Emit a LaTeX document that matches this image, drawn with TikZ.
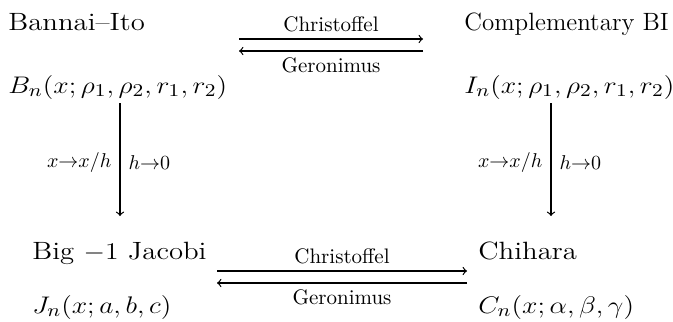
\documentclass[tikz,border=0pt]{standalone}
\usepackage{fontspec}
\usepackage{graphicx}
\newcommand{\stretchtxt}[1]{\scalebox{1.15}[1]{#1}}
\begin{document}
\begin{tikzpicture}[x=0.5pt,y=-0.5pt,
  lbl/.style={font=\fontsize{12.5}{15}\selectfont, inner sep=0pt, anchor=base west},
  elab/.style={font=\fontsize{10.5}{12}\selectfont, inner sep=3pt},
  vlab/.style={font=\fontsize{10}{12}\selectfont, inner sep=4pt},
  arr/.style={->, line width=0.6pt}]
\useasboundingbox (0,0) rectangle (673,321);
% cells
\node[lbl] (bi)  at (8,30)   {\stretchtxt{Bannai--Ito}};
\node[lbl] (bif) at (8,93)   {\stretchtxt{$B_n(x;\rho_1,\rho_2,r_1,r_2)$}};
\node[lbl] (cb)  at (464,30) {Complementary BI};
\node[lbl] (cbf) at (464,93) {\stretchtxt{$I_n(x;\rho_1,\rho_2,r_1,r_2)$}};
\node[lbl] (jb)  at (32,259) {\stretchtxt{Big $-1$ Jacobi}};
\node[lbl] (jbf) at (32,313) {\stretchtxt{$J_n(x;a,b,c)$}};
\node[lbl] (ch)  at (478,259) {\stretchtxt{Chihara}};
\node[lbl] (chf) at (478,313) {\stretchtxt{$C_n(x;\alpha,\beta,\gamma)$}};
% top pair
\draw[arr] ([shift={(115.5pt,27pt)}]bif.base west) -- node[elab,above]{Christoffel} ([shift={(-20.5pt,27pt)}]cbf.base west);
\draw[arr] ([shift={(-20.5pt,21pt)}]cbf.base west) -- node[elab,below]{Geronimus} ([shift={(115.5pt,21pt)}]bif.base west);
% bottom pair
\draw[arr] ([shift={(92.5pt,-6pt)}]jb.base west) -- node[elab,above]{Christoffel} ([shift={(-5.5pt,-6pt)}]ch.base west);
\draw[arr] ([shift={(-5.5pt,-12pt)}]ch.base west) -- node[elab,below]{Geronimus} ([shift={(92.5pt,-12pt)}]jb.base west);
% verticals
\draw[arr] ([shift={(56pt,-5pt)}]bif.base west) -- node[vlab,left,yshift=-1.5pt]{$x{\to}x/h$} node[vlab,right,yshift=-1.5pt]{$h{\to}0$} ([shift={(44pt,21.5pt)}]jb.base west);
\draw[arr] ([shift={(43.5pt,-5pt)}]cbf.base west) -- node[vlab,left,yshift=-1.5pt]{$x{\to}x/h$} node[vlab,right,yshift=-1.5pt]{$h{\to}0$} ([shift={(36.5pt,21.5pt)}]ch.base west);
\end{tikzpicture}
\end{document}
